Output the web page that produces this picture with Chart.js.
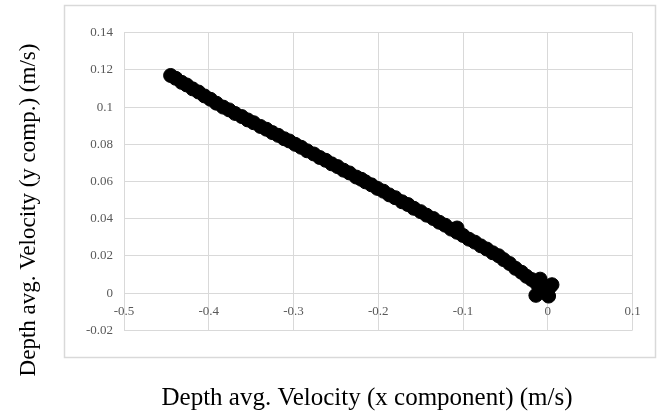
<!DOCTYPE html>
<html>
<head>
<meta charset="utf-8">
<script src="https://cdn.jsdelivr.net/npm/chart.js@4/dist/chart.umd.min.js"></script>
<style>
  html, body { margin: 0; padding: 0; background: #fff; }
  canvas { display: block; }
</style>
</head>
<body>
<canvas id="velocity" width="658" height="414"></canvas>
<script>
// depth averaged velocity components (m/s)
const xVelocity = [
  -0.445, -0.439, -0.432, -0.426, -0.419, -0.412, -0.405, -0.398, -0.391, -0.383,
  -0.376, -0.369, -0.361, -0.354, -0.347, -0.339, -0.332, -0.325, -0.318, -0.311,
  -0.305, -0.298, -0.291, -0.284, -0.276, -0.269, -0.262, -0.255, -0.248, -0.241,
  -0.234, -0.226, -0.220, -0.215, -0.208, -0.201, -0.194, -0.187, -0.180, -0.172,
  -0.165, -0.158, -0.150, -0.143, -0.135, -0.128, -0.121, -0.114, -0.107, -0.107,
  -0.100, -0.093, -0.086, -0.079, -0.072, -0.065, -0.058, -0.052, -0.045, -0.038,
  -0.031, -0.025, -0.019, -0.013, -0.009, 0.005, -0.014, 0.001, -0.004, 0.002, -0.008
];
const yVelocity = [
  0.1170, 0.1155, 0.1133, 0.1119, 0.1098, 0.1081, 0.1060, 0.1042, 0.1021, 0.1000,
  0.0985, 0.0966, 0.0949, 0.0931, 0.0916, 0.0896, 0.0881, 0.0863, 0.0848, 0.0830,
  0.0818, 0.0800, 0.0784, 0.0765, 0.0748, 0.0729, 0.0714, 0.0695, 0.0680, 0.0661,
  0.0646, 0.0624, 0.0612, 0.0598, 0.0582, 0.0563, 0.0548, 0.0528, 0.0513, 0.0491,
  0.0476, 0.0456, 0.0438, 0.0419, 0.0401, 0.0381, 0.0365, 0.0344, 0.0327, 0.0350,
  0.0310, 0.0290, 0.0274, 0.0254, 0.0237, 0.0217, 0.0201, 0.0180, 0.0159, 0.0133,
  0.0112, 0.0090, 0.0073, 0.0051, 0.0075, 0.0045, -0.0012, -0.0016, 0.0020, 0.0030, 0.0010
];

const xTickLabels = ['-0.5', '-0.4', '-0.3', '-0.2', '-0.1', '0', '0.1'];
const yTickLabels = ['-0.02', '0', '0.02', '0.04', '0.06', '0.08', '0.1', '0.12', '0.14'];

const xTitle = 'Depth avg. Velocity (x component) (m/s)';
const yTitle = 'Depth avg. Velocity (y comp.) (m/s)';

const points = xVelocity.map((x, i) => ({ x: x, y: yVelocity[i] }));

const tickFont = { family: 'Liberation Serif', size: 13 };
const gridColor = '#d9d9d9';

// outer frame and the two axis titles
const framePlugin = {
  id: 'frame',
  afterDraw: function(chart) {
    const ctx = chart.ctx;
    ctx.save();
    ctx.strokeStyle = gridColor;
    ctx.lineWidth = 1.5;
    ctx.strokeRect(64.5, 5.5, 591, 352);

    ctx.fillStyle = '#000';
    ctx.textAlign = 'center';
    ctx.textBaseline = 'alphabetic';
    ctx.font = '25px "Liberation Serif"';
    ctx.fillText(xTitle, 367, 405);

    ctx.translate(35, 210);
    ctx.rotate(-Math.PI / 2);
    ctx.font = '23px "Liberation Serif"';
    ctx.fillText(yTitle, 0, 0);
    ctx.restore();
  }
};

const chart = new Chart(document.getElementById('velocity'), {
  type: 'scatter',
  data: {
    datasets: [{
      data: points,
      backgroundColor: '#000',
      borderColor: '#000',
      borderWidth: 1,
      pointRadius: 7,
      pointHoverRadius: 7
    }]
  },
  options: {
    responsive: false,
    animation: false,
    devicePixelRatio: 1,
    layout: {
      padding: { left: 0, right: 25.5, top: 32.7, bottom: 83.7 }
    },
    plugins: {
      legend: { display: false },
      tooltip: { enabled: false }
    },
    scales: {
      x: {
        type: 'linear',
        position: { y: 0 },
        min: -0.5,
        max: 0.1,
        ticks: {
          stepSize: 0.1,
          autoSkip: false,
          maxRotation: 0,
          padding: 11,
          color: '#595959',
          font: tickFont,
          callback: (v, i) => xTickLabels[i]
        },
        grid: { color: gridColor, drawTicks: false },
        border: { color: gridColor }
      },
      y: {
        type: 'linear',
        min: -0.02,
        max: 0.14,
        afterFit: function(scale) { scale.width = 124; },
        ticks: {
          stepSize: 0.02,
          autoSkip: false,
          padding: 11,
          color: '#595959',
          font: tickFont,
          callback: (v, i) => yTickLabels[i]
        },
        grid: { color: gridColor, drawTicks: false },
        border: { color: gridColor }
      }
    }
  },
  plugins: [framePlugin]
});
</script>
</body>
</html>
